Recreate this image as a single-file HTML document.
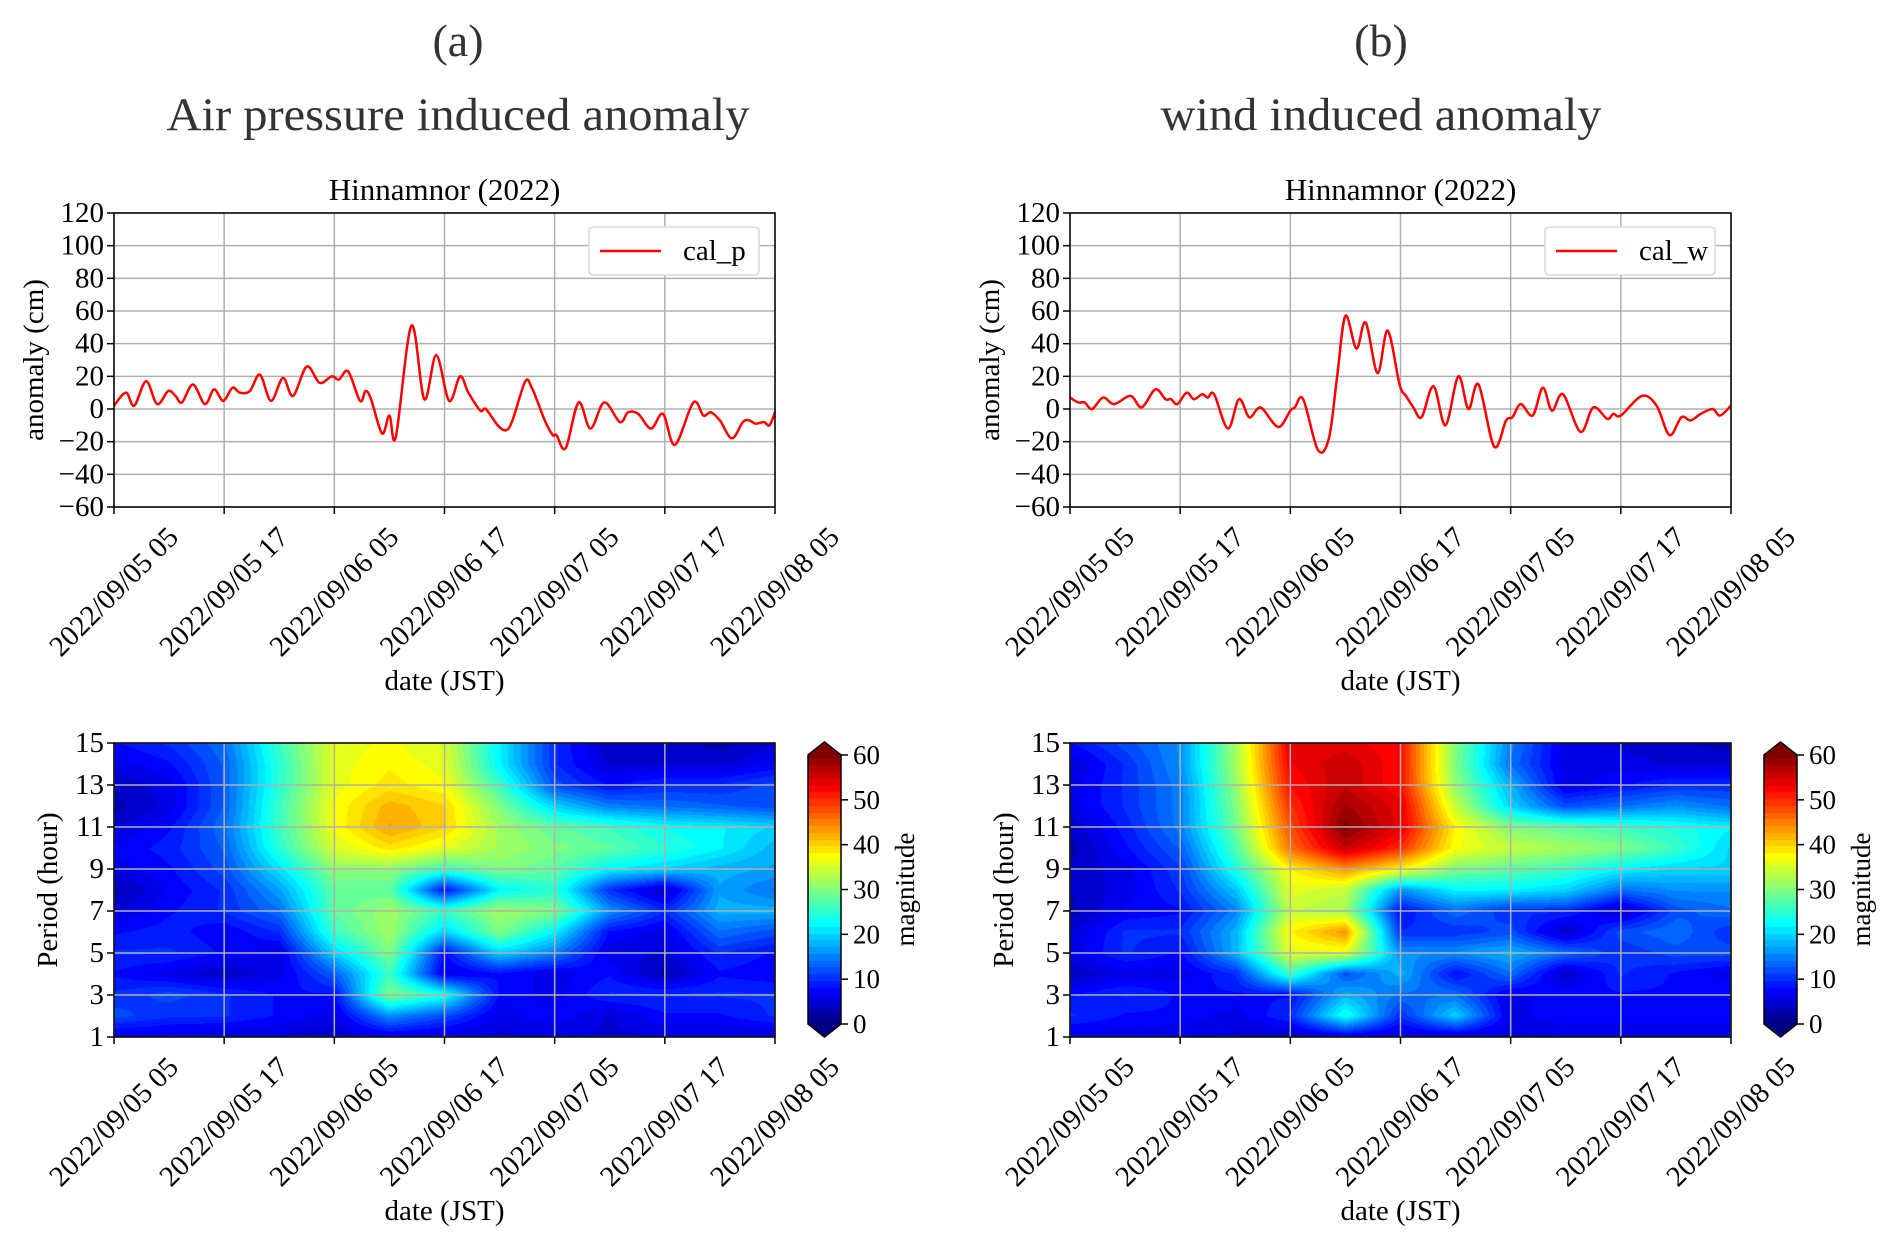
<!DOCTYPE html>
<html><head><meta charset="utf-8">
<style>
body{margin:0;background:#fff;width:1892px;height:1246px;overflow:hidden;position:relative;font-family:"Liberation Serif",serif;}
canvas{position:absolute;}
svg{position:absolute;left:0;top:0;}
</style></head>
<body>
<canvas id="hmA" style="left:114px;top:743px" width="661" height="294"></canvas>
<canvas id="hmB" style="left:1070px;top:743px" width="661" height="294"></canvas>
<canvas id="cbA" style="left:808px;top:742px" width="33" height="295"></canvas>
<canvas id="cbB" style="left:1764px;top:742px" width="33" height="295"></canvas>
<svg id="svg" width="1892" height="1246" xmlns="http://www.w3.org/2000/svg" font-family="Liberation Serif, serif"></svg>
<script>
// ---- data ----
const xTickLabels = ["2022/09/05 05","2022/09/05 17","2022/09/06 05","2022/09/06 17","2022/09/07 05","2022/09/07 17","2022/09/08 05"];
const xTickHours = [0,12,24,36,48,60,72];
const yTicksLine = [120,100,80,60,40,20,0,-20,-40,-60];
const yTicksPeriod = [1,3,5,7,9,11,13,15];
const cbTicks = [0,10,20,30,40,50,60];

const pTimes = [0,1.3,2.2,3.5,4.7,5.9,6.7,7.4,8.6,9.9,10.9,11.9,12.9,13.7,14.8,15.9,17.1,18.4,19.5,21,22.4,23.7,24.5,25.5,26.8,27.4,28,29.2,30,30.7,32.4,33.8,35.1,36.5,37.7,38.6,39.9,40.5,41.8,42.7,43.4,44.8,45.5,46.1,47,47.8,48.2,49.2,50.6,51.9,53.4,55.1,56,57.1,58.5,59.8,61.1,63.1,64.2,65,66,67.3,68.5,69.2,69.9,70.8,71.4,72];
const pValues = [2,10,2,17,3,11,8,4,15,3,12,5,13,10,11,21,5,19,8,26,16,20,18,23,5,11,6,-15,-4,-17,51,6,33,5,20,10,-1,0,-10,-13,-7,17,13,5,-8,-16,-16,-24,4,-12,4,-8,-2,-3,-12,-3,-22,4,-4,-2,-7,-18,-8,-7,-9,-8,-10,-2];
const wTimes = [0,0.9,1.6,2.4,3.6,4.8,6.6,7.8,9.3,10.4,11,11.7,12.7,13.5,14.4,15,15.7,17.2,18.4,19.5,20.4,21,22.7,24,24.5,25.4,27,28.2,29.1,30,31.2,32.2,33.5,34.6,35.9,36.6,37.4,38.3,39.6,40.9,42.3,43.4,44.5,46.2,47.5,48.2,49.1,50.4,51.5,52.5,53.7,55.6,57,58.5,59.2,60,62.3,63.9,65.3,66.6,67.6,68.7,70,70.8,72];
const wValues = [7,4,4,0,7,3,8,1,12,6,6,3,10,6,9,7,9,-12,6,-5,0,0,-11,-1,1,6,-25,-18,20,57,37,53,22,48,15,8,1,-5,14,-10,20,0,15,-23,-7,-5,3,-4,13,-1,9,-14,1,-6,-3,-4,8,2,-16,-5,-7,-3,0,-4,2];

const hmTimes = [0,6,12,18,24,30,36,42,48,54,60,66,72];
const hmPeriods = [15,14,13,12,11,10,9,8,7,6,5,4,3,2,1];
const magP = [
[8,10,14,26,36,37,35,22,10,4,5,3,5],
[6,8,13,25,36,38,36,22,10,5,5,5,7],
[4,6,13,25,36,39,37,26,12,8,10,10,12],
[3,6,13,26,37,42,40,30,20,15,14,13,12],
[5,8,14,26,37,43,40,32,28,26,23,22,20],
[7,9,13,25,35,39,36,32,30,28,25,22,18],
[6,8,12,21,31,31,26,30,28,22,20,18,17],
[3,7,10,17,28,28,8,22,25,10,4,17,14],
[5,8,10,14,28,32,26,32,30,16,10,18,18],
[8,9,7,10,26,32,20,30,22,8,6,14,12],
[10,10,8,6,20,30,8,20,15,6,5,10,8],
[8,6,4,6,13,26,6,8,6,8,3,8,7],
[10,12,10,8,8,30,24,8,6,10,10,10,10],
[12,10,10,8,6,16,12,6,8,5,8,8,10],
[6,6,5,5,4,6,5,5,5,5,5,5,5]];
const magW = [
[8,12,16,32,54,54,52,30,15,6,5,4,3],
[5,10,16,32,53,56,52,30,14,6,6,5,5],
[6,10,15,31,52,56,52,31,18,6,8,10,10],
[6,10,15,30,50,58,54,34,20,12,14,16,14],
[4,9,15,29,48,60,54,38,30,28,26,24,22],
[3,8,13,27,46,56,50,37,34,32,30,26,20],
[4,6,11,24,38,44,38,30,28,26,22,20,20],
[4,6,10,19,36,34,16,22,22,20,14,16,16],
[3,7,8,15,34,32,8,14,10,10,4,12,14],
[5,10,10,18,38,44,10,10,12,4,12,14,10],
[6,10,8,18,36,36,16,16,18,14,10,12,12],
[4,6,6,10,26,12,18,8,14,4,10,8,6],
[8,10,8,8,8,18,14,14,6,8,8,8,8],
[10,8,8,6,10,24,10,20,6,8,8,8,8],
[6,6,5,5,4,6,5,5,5,5,5,5,5]];

// ---- helpers ----
const NS="http://www.w3.org/2000/svg";
const svg=document.getElementById('svg');
function el(tag,attrs,parent,text){const e=document.createElementNS(NS,tag);for(const k in attrs)e.setAttribute(k,attrs[k]);if(text!==undefined)e.textContent=text;(parent||svg).appendChild(e);return e;}
function jet(v){const x=Math.max(0,Math.min(1,v/60));const c=t=>Math.round(255*Math.max(0,Math.min(1,1.5-Math.abs(t))));return [c(4*x-3),c(4*x-2),c(4*x-1)];}

const W=661;
function xScale(x0,h){return x0+h/72*W;}

function xTicks(g,x0,yb){
  xTickHours.forEach((h,i)=>{
    const x=xScale(x0,h);
    const t=el('line',{x1:x,y1:yb,x2:x,y2:yb+7,stroke:'#000','stroke-width':1.5},g);
    
    
    const lbl=el('text',{x:x,y:yb+85,'font-size':29,'text-anchor':'middle','dominant-baseline':'central',transform:`rotate(-45 ${x} ${yb+85})`},g,xTickLabels[i]);
    
    
  });
}

function linePanel(x0,times,values,name,title){
  const yt=213,yb=507;
  const ys=v=>yb-(v+60)/180*(yb-yt);
  const g=el('g',{});
  
  
  xTickHours.forEach(h=>{const x=xScale(x0,h);el('line',{x1:x,y1:yt,x2:x,y2:yb,stroke:'#b0b0b0','stroke-width':1.5},g);});
  yTicksLine.forEach(v=>{const y=ys(v);el('line',{x1:x0,y1:y,x2:x0+W,y2:y,stroke:'#b0b0b0','stroke-width':1.5},g);
    el('line',{x1:x0-7,y1:y,x2:x0,y2:y,stroke:'#000','stroke-width':1.5},g);
    const t=el('text',{x:x0-10,y:y,'font-size':29,'text-anchor':'end','dominant-baseline':'central'},g,String(v).replace('-','\u2212'));
    
    });
  const pts=times.map((t,i)=>[xScale(x0,t),ys(values[i])]);
  let d=`M${pts[0][0]},${pts[0][1]}`;
  for(let i=0;i<pts.length-1;i++){const p0=pts[Math.max(0,i-1)],p1=pts[i],p2=pts[i+1],p3=pts[Math.min(pts.length-1,i+2)];
    const c1=[p1[0]+(p2[0]-p0[0])/6,p1[1]+(p2[1]-p0[1])/6],c2=[p2[0]-(p3[0]-p1[0])/6,p2[1]-(p3[1]-p1[1])/6];
    d+=` C${c1[0]},${c1[1]} ${c2[0]},${c2[1]} ${p2[0]},${p2[1]}`;}
  const path=el('path',{d:d,fill:'none',stroke:'#ff0000','stroke-width':2.5},g);
  
  
  el('rect',{x:x0,y:yt,width:W,height:yb-yt,fill:'none',stroke:'#000','stroke-width':1.5},g);
  xTicks(g,x0,yb);
  const lx=x0+W-186,ly=227;
  const lg=el('g',{},g);
  
  
  el('rect',{x:lx,y:ly,width:170,height:48,rx:4,fill:'#fff',stroke:'#d8d8d8','stroke-width':1.5},lg);
  el('line',{x1:lx+11,y1:ly+24,x2:lx+72,y2:ly+24,stroke:'#ff0000','stroke-width':2.5},lg);
  el('text',{x:lx+94,y:ly+24,'font-size':29,'dominant-baseline':'central'},lg,name);
  const tt=el('text',{x:x0+W/2,y:200,'font-size':31,'text-anchor':'middle'},g,title);
  
  
  const yl=el('text',{x:0,y:0,'font-size':29,'text-anchor':'middle',transform:`translate(${x0-80},${(yt+yb)/2}) rotate(-90)`,'dominant-baseline':'central'},g,'anomaly (cm)');
  
  
  const xl=el('text',{x:x0+W/2,y:690,'font-size':29,'text-anchor':'middle'},g,'date (JST)');
  
  
}

function sampleGrid(mag,tt,pp){
  let ci=Math.min(hmTimes.length-2,Math.floor(tt/6)); let fx=(tt-hmTimes[ci])/6;
  let ri=Math.min(hmPeriods.length-2,Math.floor(15-pp)); let fy=((15-pp)-ri);
  const a=mag[ri][ci],b=mag[ri][ci+1],c=mag[ri+1][ci],d=mag[ri+1][ci+1];
  return (a*(1-fx)+b*fx)*(1-fy)+(c*(1-fx)+d*fx)*fy;
}
function drawHeat(id,mag){
  const cv=document.getElementById(id),ctx=cv.getContext('2d');
  const w=cv.width,h=cv.height,img=ctx.createImageData(w,h);
  for(let y=0;y<h;y++){const p=15-y/(h-1)*14;
    for(let x=0;x<w;x++){const t=x/(w-1)*72;
      let v=sampleGrid(mag,t,p); v=Math.round(v/1.5)*1.5;
      const c=jet(v),k=(y*w+x)*4;img.data[k]=c[0];img.data[k+1]=c[1];img.data[k+2]=c[2];img.data[k+3]=255;}}
  ctx.putImageData(img,0,0);
}
function drawCb(id){
  const cv=document.getElementById(id),ctx=cv.getContext('2d');
  const top=13,bot=282;
  for(let y=0;y<cv.height;y++){let v=(bot-y)/(bot-top)*60; let col;
    if(y<top) col=[128,0,0]; else if(y>bot) col=[0,0,128]; else col=jet(Math.round(v/1.5)*1.5);
    ctx.fillStyle=`rgb(${col})`;ctx.fillRect(0,y,cv.width,1);}
  ctx.globalCompositeOperation='destination-out';ctx.fillStyle='#000';
  const w=cv.width;
  ctx.beginPath();ctx.moveTo(0,0);ctx.lineTo(w/2,0);ctx.lineTo(0,top);ctx.closePath();ctx.fill();
  ctx.beginPath();ctx.moveTo(w,0);ctx.lineTo(w/2,0);ctx.lineTo(w,top);ctx.closePath();ctx.fill();
  ctx.beginPath();ctx.moveTo(0,cv.height);ctx.lineTo(w/2,cv.height);ctx.lineTo(0,bot);ctx.closePath();ctx.fill();
  ctx.beginPath();ctx.moveTo(w,cv.height);ctx.lineTo(w/2,cv.height);ctx.lineTo(w,bot);ctx.closePath();ctx.fill();
}

function heatPanel(x0,cbx,name){
  const yt=743,yb=1037;
  const ys=p=>yb-(p-1)/14*(yb-yt);
  const g=el('g',{});
  
  
  xTickHours.forEach(h=>{const x=xScale(x0,h);el('line',{x1:x,y1:yt,x2:x,y2:yb,stroke:'#b0b0b0','stroke-width':1.5},g);});
  yTicksPeriod.forEach(p=>{const y=ys(p);el('line',{x1:x0,y1:y,x2:x0+W,y2:y,stroke:'#b0b0b0','stroke-width':1.5},g);
    el('line',{x1:x0-7,y1:y,x2:x0,y2:y,stroke:'#000','stroke-width':1.5},g);
    const t=el('text',{x:x0-10,y:y,'font-size':29,'text-anchor':'end','dominant-baseline':'central'},g,String(p));
    
    });
  el('rect',{x:x0,y:yt,width:W,height:yb-yt,fill:'none',stroke:'#000','stroke-width':1.5},g);
  xTicks(g,x0,yb);
  const yl=el('text',{x:0,y:0,'font-size':29,'text-anchor':'middle',transform:`translate(${x0-66},${(yt+yb)/2}) rotate(-90)`,'dominant-baseline':'central'},g,'Period (hour)');
  
  
  const xl=el('text',{x:x0+W/2,y:1220,'font-size':29,'text-anchor':'middle'},g,'date (JST)');
  
  
  const cb=el('g',{},g);
  
  
  const w=33,t=755,b=1024;
  el('path',{d:`M${cbx},${t} L${cbx+w/2},742 L${cbx+w},${t} L${cbx+w},${b} L${cbx+w/2},1037 L${cbx},${b} Z`,fill:'none',stroke:'#000','stroke-width':1.5},cb);
  cbTicks.forEach(v=>{const y=b-v/60*(b-t);
    el('line',{x1:cbx+w,y1:y,x2:cbx+w+7,y2:y,stroke:'#000','stroke-width':1.5},cb);
    el('text',{x:cbx+w+12,y:y,'font-size':27,'dominant-baseline':'central'},cb,String(v));});
  el('text',{x:0,y:0,'font-size':27,'text-anchor':'middle','dominant-baseline':'central',transform:`translate(${cbx+97},${(t+b)/2}) rotate(-90)`},cb,'magnitude');
}

[[458,'(a)','Air pressure induced anomaly',583],[1381,'(b)','wind induced anomaly',441]].forEach(([cx,a,b,len])=>{
  const h1=el('text',{x:cx,y:56,'font-size':46,'text-anchor':'middle',fill:'#333'},svg,a);
  
  
  const h2=el('text',{x:cx,y:130,'font-size':47,'text-anchor':'middle',fill:'#333',textLength:len,lengthAdjust:'spacingAndGlyphs'},svg,b);
  
  
});

linePanel(114,pTimes,pValues,'cal_p','Hinnamnor (2022)');
linePanel(1070,wTimes,wValues,'cal_w','Hinnamnor (2022)');
drawHeat('hmA',magP);drawHeat('hmB',magW);
drawCb('cbA');drawCb('cbB');
heatPanel(114,808,'pressure');
heatPanel(1070,1764,'wind');
</script>
</body></html>
